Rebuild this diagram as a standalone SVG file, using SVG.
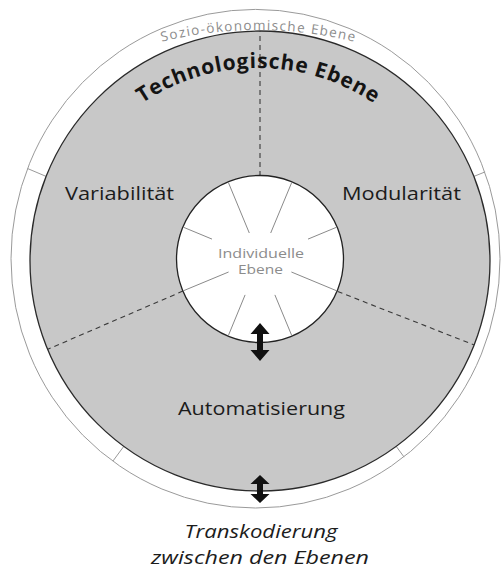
<svg xmlns="http://www.w3.org/2000/svg" width="504" height="570" viewBox="0 0 504 570">
  <style>
    .label { font-family: "Open Sans", "Noto Sans", "DejaVu Sans", sans-serif; fill: #1c1c1c; font-size: 19px; text-anchor: middle; }
    .faint { font-family: "Open Sans", "Noto Sans", "DejaVu Sans", sans-serif; fill: #8c8c8c; font-size: 13px; text-anchor: middle; }
    .inner { font-size: 12.5px; }
    .socio { font-size: 13.5px; }
    .title { font-family: "Open Sans", "Noto Sans", "DejaVu Sans", sans-serif; fill: #141414; font-size: 21px; font-weight: bold; }
    .caption { font-family: "Open Sans", "Noto Sans", "DejaVu Sans", sans-serif; fill: #1c1c1c; font-size: 19px; font-style: italic; text-anchor: middle; }
    .tick { stroke: #9a9a9a; stroke-width: 1; fill: none; }
    .spoke { stroke: #8a8a8a; stroke-width: 1; fill: none; }
    .divider { stroke: #3a3a3a; stroke-width: 1.1; stroke-dasharray: 5 4; fill: none; }
    .arrow { fill: #111; stroke: none; }
  </style>
  <defs>
    <!-- baseline arcs for the curved layer names -->
    <path id="arc-socio" d="M 0.9,123.6 A 400 400 0 0 1 515.1,123.6"/>
    <path id="arc-tech" d="M 50,276 A 208 208 0 0 1 466,276"/>
  </defs>

  <rect width="504" height="570" fill="#ffffff"/>

  <!-- outer socio-economic layer -->
  <g id="socio-layer">
    <ellipse cx="255.5" cy="258.7" rx="244.5" ry="249.3" fill="#ffffff" stroke="#9a9a9a" stroke-width="1"/>
    <line class="tick" x1="46.1" y1="176.4" x2="27.5" y2="168.5"/>
    <line class="tick" x1="473.9" y1="176.4" x2="485.1" y2="171.9"/>
    <line class="tick" x1="123.6" y1="446.6" x2="112.9" y2="461.1"/>
    <line class="tick" x1="396.4" y1="446.6" x2="404.1" y2="457.1"/>
    <text class="faint socio"><textPath href="#arc-socio" startOffset="50%" textLength="194" lengthAdjust="spacing">Sozio-ökonomische Ebene</textPath></text>
  </g>

  <!-- technological layer with its three sectors -->
  <g id="tech-layer">
    <circle cx="260" cy="261" r="230" fill="#c8c8c8" stroke="#2a2a2a" stroke-width="1.3"/>
    <line class="divider" x1="260" y1="176" x2="260" y2="31"/>
    <line class="divider" x1="182.9" y1="291.1" x2="47.7" y2="349.3"/>
    <line class="divider" x1="337.7" y1="291.5" x2="474.1" y2="344.9"/>
    <text class="title" text-anchor="middle"><textPath href="#arc-tech" startOffset="50%" textLength="246" lengthAdjust="spacing">Technologische Ebene</textPath></text>
  </g>

  <g id="sector-variability">
    <text class="label" x="119.5" y="200" textLength="109" lengthAdjust="spacingAndGlyphs">Variabilität</text>
  </g>
  <g id="sector-modularity">
    <text class="label" x="401.5" y="200" textLength="119" lengthAdjust="spacingAndGlyphs">Modularität</text>
  </g>
  <g id="sector-automation">
    <text class="label" x="261.5" y="415" textLength="167" lengthAdjust="spacingAndGlyphs">Automatisierung</text>
  </g>

  <!-- inner individual layer -->
  <g id="individual-layer">
    <circle cx="260" cy="259" r="83.5" fill="#ffffff" stroke="#222222" stroke-width="1.3"/>
    <line class="spoke" x1="228.3" y1="182.3" x2="249.3" y2="233"/>
    <line class="spoke" x1="291.8" y1="182.3" x2="270.7" y2="233"/>
    <line class="spoke" x1="183.3" y1="227.2" x2="212" y2="239.1"/>
    <line class="spoke" x1="336.7" y1="227.2" x2="308" y2="239.1"/>
    <line class="spoke" x1="183.3" y1="290.8" x2="228.6" y2="272"/>
    <line class="spoke" x1="336.7" y1="290.8" x2="291.4" y2="272"/>
    <line class="spoke" x1="228.3" y1="335.7" x2="245.1" y2="294.9"/>
    <line class="spoke" x1="291.8" y1="335.7" x2="274.9" y2="294.9"/>
    <text class="faint inner" x="261" y="257.5" textLength="86" lengthAdjust="spacingAndGlyphs">Individuelle</text>
    <text class="faint inner" x="260.5" y="273.5" textLength="45" lengthAdjust="spacingAndGlyphs">Ebene</text>
  </g>

  <!-- transcoding arrows between the layers -->
  <g id="connectors">
    <polygon class="arrow" points="260,323 269.5,334 263,334 263,350 269.5,350 260,361 250.5,350 257,350 257,334 250.5,334"/>
    <polygon class="arrow" points="260,475 269.5,484 263,484 263,494 269.5,494 260,503 250.5,494 257,494 257,484 250.5,484"/>
  </g>

  <g id="caption">
    <text class="caption" x="261" y="538" textLength="153" lengthAdjust="spacingAndGlyphs">Transkodierung</text>
    <text class="caption" x="260" y="564" textLength="218" lengthAdjust="spacingAndGlyphs">zwischen den Ebenen</text>
  </g>
</svg>
